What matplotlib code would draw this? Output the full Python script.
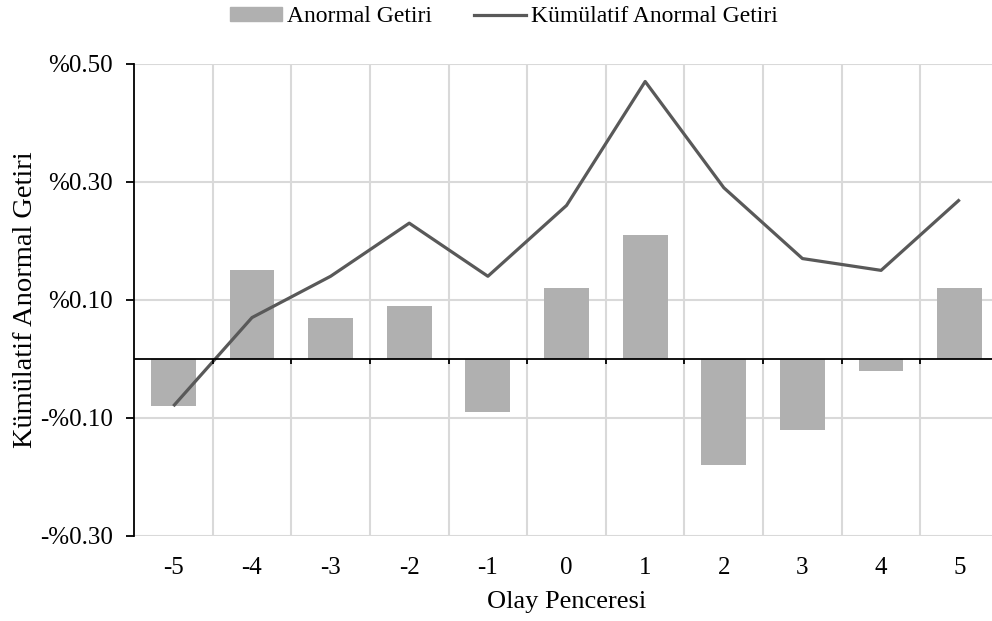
import numpy as np
import matplotlib.pyplot as plt
from matplotlib.ticker import FuncFormatter
from matplotlib.patches import Patch
from matplotlib.lines import Line2D

plt.rcParams["font.family"] = ["Liberation Serif", "DejaVu Serif"]
plt.rcParams["font.size"] = 18

# event window and returns (in percent)
olay = [-5, -4, -3, -2, -1, 0, 1, 2, 3, 4, 5]
anormal_getiri = [-0.08, 0.15, 0.07, 0.09, -0.09, 0.12, 0.21, -0.18, -0.12, -0.02, 0.12]
kumulatif = [-0.08, 0.07, 0.14, 0.23, 0.14, 0.26, 0.47, 0.29, 0.17, 0.15, 0.27]
y_ticks = [-0.30, -0.10, 0.10, 0.30, 0.50]

bar_color = '#b0b0b0'
line_color = '#595959'
grid_color = '#d9d9d9'


def pct_fmt(v, pos):
    if v < 0:
        return '-%%%.2f' % abs(v)
    return '%%%.2f' % v


def main():
    fig = plt.figure(figsize=(9.92, 6.21), dpi=100)
    ax = fig.add_axes([0.1351, 0.1369, 0.872, 0.7604])

    x = np.arange(len(olay))
    ax.bar(x, anormal_getiri, width=0.57, color=bar_color, zorder=2)
    ax.plot(x, kumulatif, color=line_color, linewidth=2.3, zorder=3,
            solid_capstyle='butt')

    ymin, ymax = min(y_ticks), max(y_ticks)
    ax.set_xlim(-0.5, len(olay) - 0.5)
    ax.set_ylim(ymin, ymax)

    # grid: vertical lines between categories, horizontal at y ticks
    bounds = x[:-1] + 0.5
    ax.vlines(bounds, ymin, ymax, color=grid_color, linewidth=1.5, zorder=1)
    ax.hlines(y_ticks, -0.5, len(olay) - 0.5, color=grid_color,
              linewidth=1.5, zorder=1)

    # zero axis with small ticks between categories
    tick_len = 0.009 * (ymax - ymin) / 0.8
    ax.axhline(0, color='black', linewidth=1.3, zorder=4)
    ax.vlines(bounds, -tick_len, 0, color='black', linewidth=1.3, zorder=4)

    for side in ['top', 'right', 'bottom']:
        ax.spines[side].set_visible(False)
    ax.spines['left'].set_linewidth(1.3)
    ax.spines['left'].set_zorder(4)

    ax.set_yticks(y_ticks)
    ax.yaxis.set_major_formatter(FuncFormatter(pct_fmt))
    ax.tick_params(axis='y', direction='out', length=6, width=1.3, pad=9)
    ax.set_xticks(x, [str(v) for v in olay])
    ax.tick_params(axis='x', length=0, pad=15)

    ax.set_xlabel('Olay Penceresi', labelpad=9, fontsize=19)
    ax.set_ylabel('Kümülatif Anormal Getiri', labelpad=1.5, fontsize=20.5)

    handles = [Patch(color=bar_color, label='Anormal Getiri'),
               Line2D([0], [0], color=line_color, linewidth=2.3,
                      label='Kümülatif Anormal Getiri')]
    fig.legend(handles=handles, loc='center', bbox_to_anchor=(0.508, 0.973),
               ncol=2, frameon=False, handlelength=2.2, handleheight=0.5,
               columnspacing=1.8, handletextpad=0.2, fontsize=17)

    fig.savefig('out.png', dpi=100)


if __name__ == "__main__":
    main()
